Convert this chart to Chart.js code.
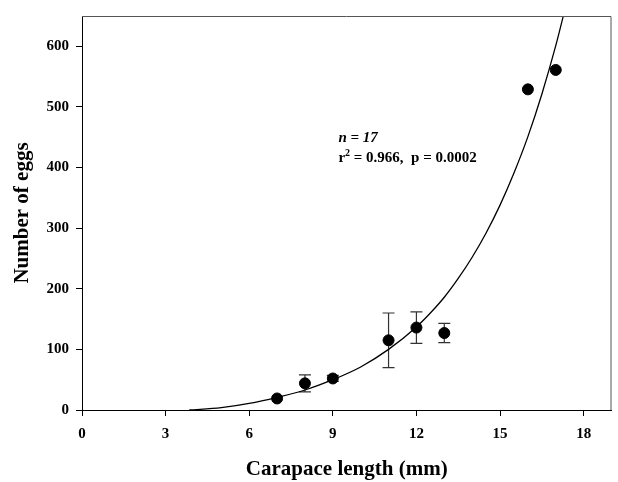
<!DOCTYPE html>
<html>
<head>
<meta charset="utf-8">
<script src="https://cdn.jsdelivr.net/npm/chart.js@4"></script>
<style>
  html, body { margin: 0; padding: 0; background: #fff; }
  #egg-chart { display: block; }
</style>
</head>
<body>
<canvas id="egg-chart" width="618" height="482"></canvas>
<script>
// carapace length (mm) vs mean egg count
const carapaceLength = [7, 8, 9, 11, 12, 13, 16, 17];
const eggMeans = [19, 44, 52, 115, 136, 127, 529, 561];
const eggSE = [0, 14, 5, 45, 26, 16, 0, 0];

// fitted curve
const fitX = [3.85, 5, 6, 7, 8, 9, 10, 11, 12, 12.5, 13, 13.5, 14, 14.5, 15, 15.5, 16, 16.5, 17, 17.4];
const fitY = [0, 4, 11, 21, 33, 50, 71, 100, 137, 160, 186, 217, 252, 292, 338, 391, 451, 521, 601, 674];

const xTicks = [0, 3, 6, 9, 12, 15, 18];
const yTicks = [0, 100, 200, 300, 400, 500, 600];

const serif = '"Liberation Serif", "Times New Roman", serif';

const errorBars = {
  id: "errorBars",
  beforeDatasetsDraw(chart) {
    const { ctx, scales } = chart;
    ctx.save();
    ctx.strokeStyle = "#333";
    ctx.lineWidth = 1.2;
    carapaceLength.forEach((x, i) => {
      if (!eggSE[i]) return;
      const px = scales.x.getPixelForValue(x);
      const top = scales.y.getPixelForValue(eggMeans[i] + eggSE[i]);
      const bot = scales.y.getPixelForValue(eggMeans[i] - eggSE[i]);
      ctx.beginPath();
      ctx.moveTo(px, top); ctx.lineTo(px, bot);
      ctx.moveTo(px - 6, top); ctx.lineTo(px + 6, top);
      ctx.moveTo(px - 6, bot); ctx.lineTo(px + 6, bot);
      ctx.stroke();
    });
    ctx.restore();
  },
};

const frameAndNotes = {
  id: "frameAndNotes",
  afterDraw(chart) {
    const { ctx, chartArea, scales } = chart;
    ctx.save();
    ctx.strokeStyle = "#555";
    ctx.lineWidth = 1;
    ctx.beginPath();
    ctx.moveTo(chartArea.left, chartArea.top + 0.5);
    ctx.lineTo(chartArea.right - 0.5, chartArea.top + 0.5);
    ctx.lineTo(chartArea.right - 0.5, chartArea.bottom);
    ctx.stroke();

    const tx = scales.x.getPixelForValue(9.2);
    const ty = scales.y.getPixelForValue(442);
    ctx.fillStyle = "#000";
    ctx.textBaseline = "alphabetic";
    ctx.font = "italic bold 15px " + serif;
    ctx.fillText("n = 17", tx, ty);
    ctx.font = "bold 15px " + serif;
    ctx.fillText("r", tx, ty + 20);
    const rw = ctx.measureText("r").width;
    ctx.font = "bold 10px " + serif;
    ctx.fillText("2", tx + rw, ty + 14);
    const sw = ctx.measureText("2").width;
    ctx.font = "bold 15px " + serif;
    ctx.fillText(" = 0.966,  p = 0.0002", tx + rw + sw, ty + 20);
    ctx.restore();
  },
};

const ctx = document.getElementById("egg-chart").getContext("2d");

new Chart(ctx, {
  type: "scatter",
  data: {
    datasets: [
      {
        label: "fit",
        type: "line",
        data: fitX.map((x, i) => ({ x: x, y: fitY[i] })),
        borderColor: "#000",
        borderWidth: 1.3,
        pointRadius: 0,
        fill: false,
        cubicInterpolationMode: "monotone",
      },
      {
        label: "eggs",
        data: carapaceLength.map((x, i) => ({ x: x, y: eggMeans[i] })),
        backgroundColor: "#000",
        borderColor: "#000",
        pointRadius: 5.5,
        pointHoverRadius: 5.5,
      },
    ],
  },
  options: {
    responsive: false,
    animation: false,
    events: [],
    layout: { padding: { top: 6, right: 1, left: 0, bottom: 0 } },
    plugins: {
      legend: { display: false },
      tooltip: { enabled: false },
    },
    scales: {
      x: {
        type: "linear",
        min: 0,
        max: 19,
        afterBuildTicks: (s) => { s.ticks = xTicks.map((v) => ({ value: v })); },
        afterFit: (s) => { s.height = 72; },
        border: { color: "#000", width: 1 },
        grid: { drawOnChartArea: false, drawTicks: true, tickLength: 6, color: "#000" },
        ticks: { color: "#000", padding: 9, maxRotation: 0, font: { family: serif, size: 15, weight: "bold" } },
        title: { display: true, text: "Carapace length (mm)", color: "#000", padding: 0, font: { family: serif, size: 21, weight: "bold" } },
      },
      y: {
        type: "linear",
        min: 0,
        max: 650,
        afterBuildTicks: (s) => { s.ticks = yTicks.map((v) => ({ value: v })); },
        afterFit: (s) => { s.width = 82; },
        border: { color: "#000", width: 1 },
        grid: { drawOnChartArea: false, drawTicks: true, tickLength: 6, color: "#000" },
        ticks: { color: "#000", padding: 7, font: { family: serif, size: 15, weight: "bold" } },
        title: { display: true, text: "Number of eggs", color: "#000", padding: 10, font: { family: serif, size: 21, weight: "bold" } },
      },
    },
  },
  plugins: [errorBars, frameAndNotes],
});
</script>
</body>
</html>
